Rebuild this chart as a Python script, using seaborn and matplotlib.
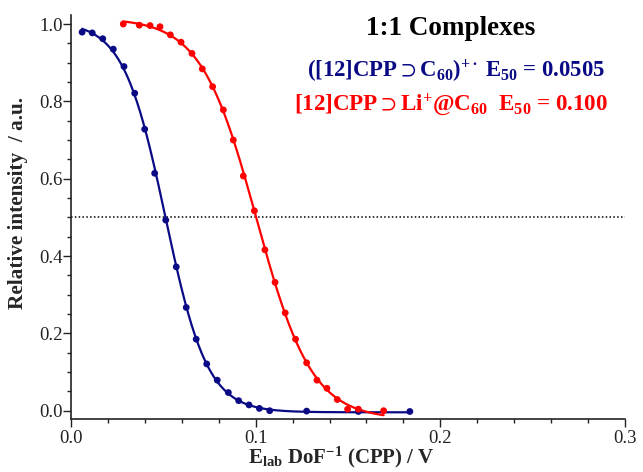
import numpy as np
import pandas as pd
import matplotlib
matplotlib.use("Agg")
import matplotlib.pyplot as plt
import seaborn as sns
from matplotlib.ticker import MultipleLocator, FormatStrFormatter

# ---- data ----
blue_x = [0.006, 0.0115, 0.0172, 0.0229, 0.0287, 0.0345, 0.0399, 0.0453, 0.0513, 0.0570,
          0.0624, 0.0678, 0.0735, 0.0792, 0.0852, 0.0908, 0.0964, 0.1020, 0.1076, 0.1276,
          0.1556, 0.1835]
blue_y = [0.979, 0.977, 0.962, 0.935, 0.890, 0.821, 0.728, 0.614, 0.493, 0.372,
          0.267, 0.185, 0.121, 0.079, 0.047, 0.026, 0.015, 0.006, 0.000, -0.001,
          -0.002, -0.002]
red_x = [0.0283, 0.0370, 0.0428, 0.0482, 0.0538, 0.0596, 0.0655, 0.0711, 0.0767, 0.0825,
         0.0879, 0.0933, 0.0993, 0.1050, 0.1105, 0.1160, 0.1216, 0.1276, 0.1332, 0.1386,
         0.1442, 0.1498, 0.1556, 0.1693]
red_y = [1.000, 0.997, 0.996, 0.993, 0.972, 0.953, 0.924, 0.884, 0.838, 0.778,
         0.700, 0.607, 0.517, 0.416, 0.332, 0.253, 0.185, 0.124, 0.079, 0.058,
         0.029, 0.004, 0.004, 0.000]

x_ticks = [0.0, 0.1, 0.2, 0.3]
y_ticks = [0.0, 0.2, 0.4, 0.6, 0.8, 1.0]

title = "1:1 Complexes"
label_blue = r"([12]CPP$\supset$C$_{60}$)$^{+\bullet}$ E$_{50}$ = 0.0505"
label_red = r"[12]CPP$\supset$Li$^{+}$@C$_{60}$  E$_{50}$ = 0.100"
xlabel = r"E$_{lab}$ DoF$^{-1}$ (CPP) / V"
ylabel = "Relative intensity  / a.u."

NAVY = "#0a0a85"
RED = "#ff0000"


def boltzmann_fit(x, y):
    """Least-squares Boltzmann sigmoid fit computed from the data points."""
    x = np.asarray(x, float)
    y = np.asarray(y, float)
    best = None
    for x0 in np.linspace(x.min(), x.max(), 300):
        for dx in np.linspace(0.003, 0.03, 120):
            f = 1.0 / (1.0 + np.exp((x - x0) / dx))
            A = np.column_stack([f, 1 - f])
            coef, *_ = np.linalg.lstsq(A, y, rcond=None)
            r = np.sum((A @ coef - y) ** 2)
            if best is None or r < best[0]:
                best = (r, x0, dx, coef)
    _, x0, dx, (a1, a2) = best
    xs = np.linspace(x.min(), x.max(), 300)
    f = 1.0 / (1.0 + np.exp((xs - x0) / dx))
    return xs, a1 * f + a2 * (1 - f)


sns.set_style("ticks")
plt.rcParams["font.family"] = ["Liberation Serif", "DejaVu Serif"]
plt.rcParams["mathtext.fontset"] = "custom"
plt.rcParams["mathtext.rm"] = "Liberation Serif:bold"
plt.rcParams["mathtext.it"] = "Liberation Serif:bold"
plt.rcParams["mathtext.bf"] = "Liberation Serif:bold"
plt.rcParams["mathtext.default"] = "rm"
plt.rcParams["mathtext.fallback"] = "stix"

W, H = 643, 472
fig = plt.figure(figsize=(W / 100, H / 100), dpi=100)
ax = fig.add_axes([71 / W, 52.7 / H, (625 - 71) / W, (419.3 - 15) / H])

ax.axhline(0.5, color="black", lw=1.1, ls=(0, (1, 1.5)), zorder=1)

bx, by = boltzmann_fit(blue_x, blue_y)
rx, ry = boltzmann_fit(red_x, red_y)
sns.lineplot(x=bx, y=by, ax=ax, color=NAVY, lw=1.6, zorder=3)
sns.lineplot(x=rx, y=ry, ax=ax, color=RED, lw=1.6, zorder=3)
sns.scatterplot(x=blue_x, y=blue_y, ax=ax, color=NAVY, s=24, edgecolor="none", zorder=4)
sns.scatterplot(x=red_x, y=red_y, ax=ax, color=RED, s=24, edgecolor="none", zorder=4)

ax.set_xlim(0, 0.3)
ax.set_ylim(-0.0222, 1.0233)
ax.set_xticks(x_ticks)
ax.set_yticks(y_ticks)
ax.xaxis.set_minor_locator(MultipleLocator(0.02))
ax.yaxis.set_minor_locator(MultipleLocator(0.05))
ax.xaxis.set_major_formatter(FormatStrFormatter("%.1f"))
ax.yaxis.set_major_formatter(FormatStrFormatter("%.1f"))
ax.tick_params(which="major", length=5.5, width=1.0, labelsize=13.5, color="#222222",
               labelcolor="#222222")
ax.tick_params(axis="y", which="major", pad=0.5)
ax.tick_params(axis="x", which="major", pad=2)
ax.tick_params(which="minor", length=3, width=1.0, color="#222222")
for s in ["top", "right"]:
    ax.spines[s].set_visible(False)
for s in ["left", "bottom"]:
    ax.spines[s].set_linewidth(1.2)
    ax.spines[s].set_color("#222222")
ax.set_xlabel("")
ax.set_ylabel("")

fig.text(341 / W, 1 - 463.3 / H, xlabel, ha="center", va="baseline",
         fontsize=15, fontweight="bold")
fig.text(18.5 / W, 1 - 203 / H, ylabel, ha="center", va="center", rotation=90,
         fontsize=15.3, fontweight="bold")

fig.text(451 / W, 1 - 35 / H, title, ha="center", va="baseline",
         fontsize=19.5, fontweight="bold", color="black")
fig.text(456 / W, 1 - 77.3 / H, label_blue, ha="center", va="baseline",
         fontsize=16.4, fontweight="bold", color=NAVY)
fig.text(451.5 / W, 1 - 110 / H, label_red, ha="center", va="baseline",
         fontsize=16.6, fontweight="bold", color=RED)

fig.savefig("out.png", dpi=100)
